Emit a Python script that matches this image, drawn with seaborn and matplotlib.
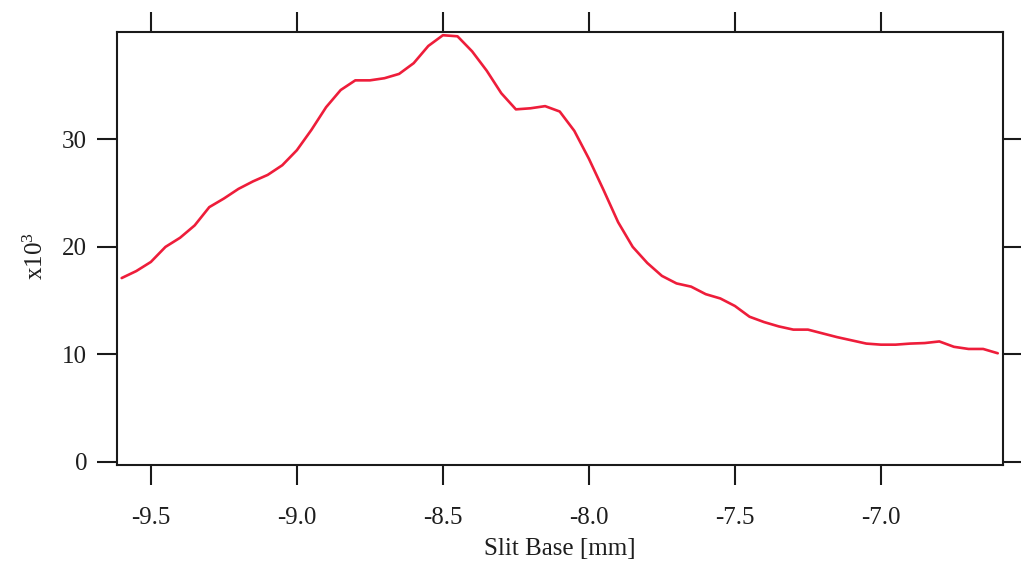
import matplotlib
matplotlib.use("Agg")
import matplotlib.pyplot as plt
import pandas as pd
import seaborn as sns

# Slit base position scan (mm) and detector counts (x10^3)
slit_base_mm = [
    -9.60, -9.55, -9.50, -9.45, -9.40, -9.35, -9.30, -9.25, -9.20, -9.15,
    -9.10, -9.05, -9.00, -8.95, -8.90, -8.85, -8.80, -8.75, -8.70, -8.65,
    -8.60, -8.55, -8.50, -8.45, -8.40, -8.35, -8.30, -8.25, -8.20, -8.15,
    -8.10, -8.05, -8.00, -7.95, -7.90, -7.85, -7.80, -7.75, -7.70, -7.65,
    -7.60, -7.55, -7.50, -7.45, -7.40, -7.35, -7.30, -7.25, -7.20, -7.15,
    -7.10, -7.05, -7.00, -6.95, -6.90, -6.85, -6.80, -6.75, -6.70, -6.65,
    -6.60,
]
counts_k = [
    17.1, 17.75, 18.6, 20.0, 20.85, 22.0, 23.7, 24.5, 25.4, 26.1,
    26.7, 27.6, 29.0, 30.9, 33.0, 34.6, 35.5, 35.5, 35.7, 36.1,
    37.1, 38.7, 39.7, 39.6, 38.2, 36.4, 34.3, 32.8, 32.9, 33.1,
    32.6, 30.8, 28.2, 25.3, 22.3, 20.0, 18.5, 17.3, 16.6, 16.3,
    15.6, 15.2, 14.5, 13.5, 13.0, 12.6, 12.3, 12.3, 11.95, 11.6,
    11.3, 11.0, 10.9, 10.9, 11.0, 11.05, 11.2, 10.7, 10.5, 10.5,
    10.1,
]

x_ticks = [-9.5, -9.0, -8.5, -8.0, -7.5, -7.0]
x_tick_labels = ["-9.5", "-9.0", "-8.5", "-8.0", "-7.5", "-7.0"]
y_ticks = [0, 10, 20, 30]
y_tick_labels = ["0", "10", "20", "30"]

sns.set_theme(style="ticks")
plt.rcParams["font.family"] = ["Liberation Serif", "DejaVu Serif"]
plt.rcParams["mathtext.fontset"] = "custom"
plt.rcParams["mathtext.rm"] = "Liberation Serif"
plt.rcParams["mathtext.default"] = "regular"

df = pd.DataFrame({"slit": slit_base_mm, "counts": counts_k})

fig = plt.figure(figsize=(10.21, 5.62), dpi=100, facecolor="white")
ax = fig.add_axes([117 / 1021, 1 - 465 / 562, (1003 - 117) / 1021, (465 - 32) / 562])
ax.set_facecolor("white")

sns.lineplot(data=df, x="slit", y="counts", ax=ax, color="#EE1D3A",
             linewidth=1.9, sort=False, estimator=None)

ax.set_xlim(-9.616, -6.582)
ax.set_ylim(-0.3, 40.0)

ax.set_xticks(x_ticks)
ax.set_xticklabels(x_tick_labels)
ax.set_yticks(y_ticks)
ax.set_yticklabels(y_tick_labels)

for side in ["left", "right", "top", "bottom"]:
    ax.spines[side].set_visible(True)
    ax.spines[side].set_color("#1a1a1a")
    ax.spines[side].set_linewidth(1.5)

ax.tick_params(axis="both", which="major", direction="out", length=14.5,
               width=1.5, color="#1a1a1a", labelsize=18, labelcolor="#1e1e1e",
               top=True, right=True, labeltop=False, labelright=False)
ax.tick_params(axis="x", pad=16)
ax.tick_params(axis="y", pad=7)

ax.set_xlabel("Slit Base [mm]", fontsize=18, color="#1e1e1e", labelpad=6)
ax.set_ylabel("x10$^{3}$", fontsize=18, color="#1e1e1e")
ax.yaxis.set_label_coords(-0.078, 0.483)

fig.savefig("out.png", dpi=100, facecolor="white")
